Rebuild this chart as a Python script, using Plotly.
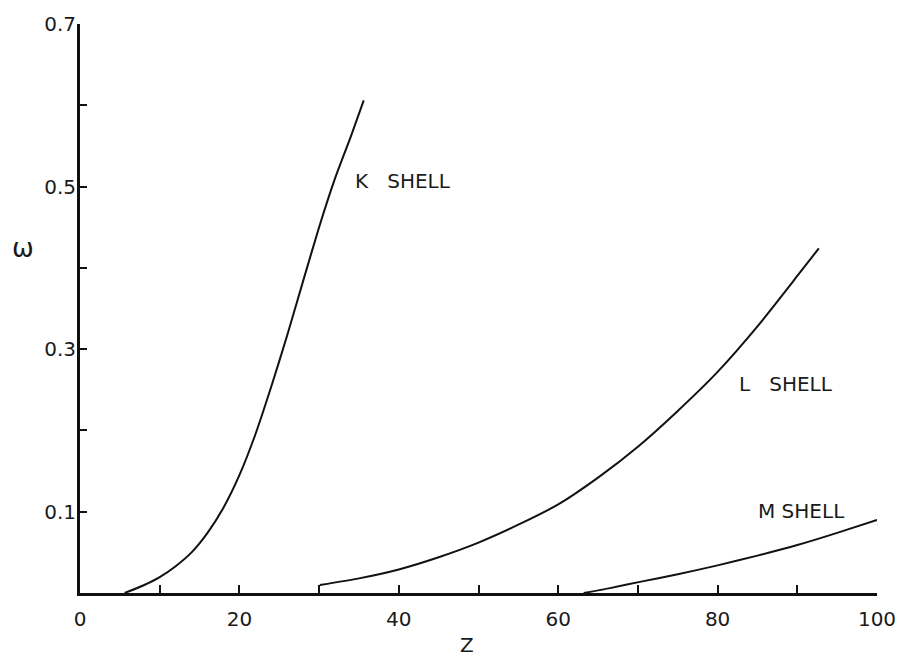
import plotly.graph_objects as go

# K shell fluorescence yield
k_z = [5.6, 8.0, 10.0, 12.0, 14.0, 16.0, 18.0, 20.0, 22.0, 24.0, 26.0, 28.0, 30.0, 32.0, 34.0, 35.6]
k_w = [0.0, 0.0095, 0.0195, 0.033, 0.050, 0.074, 0.105, 0.145, 0.195, 0.254, 0.317, 0.384, 0.45, 0.51, 0.562, 0.606]

# L shell
l_z = [30.1, 35.0, 40.0, 45.0, 50.0, 55.0, 60.0, 65.0, 70.0, 75.0, 80.0, 85.0, 90.0, 92.7]
l_w = [0.0098, 0.018, 0.029, 0.044, 0.062, 0.084, 0.109, 0.142, 0.18, 0.224, 0.272, 0.328, 0.39, 0.424]

# M shell
m_z = [63.2, 66.5, 70.4, 75.0, 80.0, 85.0, 90.0, 95.0, 100.0]
m_w = [0.0, 0.006, 0.014, 0.023, 0.034, 0.046, 0.059, 0.074, 0.09]

x_ticks = [0, 10, 20, 30, 40, 50, 60, 70, 80, 90, 100]
x_labels = ["0", "", "20", "", "40", "", "60", "", "80", "", "100"]
y_ticks = [0.1, 0.2, 0.3, 0.4, 0.5, 0.6, 0.7]
y_labels = ["0.1", "", "0.3", "", "0.5", "", "0.7"]

shell_labels = ["K\u00a0\u00a0\u00a0SHELL", "L\u00a0\u00a0\u00a0SHELL", "M\u00a0SHELL"]
label_x = [40.5, 88.6, 90.5]
label_y = [0.507, 0.257, 0.101]

font = dict(family="DejaVu Sans", size=20, color="#1a1a1a")

fig = go.Figure()
for zs, ws in [(k_z, k_w), (l_z, l_w), (m_z, m_w)]:
    fig.add_trace(go.Scatter(x=zs, y=ws, mode="lines",
                             line=dict(color="#111111", width=2, shape="spline", smoothing=0.6),
                             showlegend=False, hoverinfo="skip"))

for t, xx, yy in zip(shell_labels, label_x, label_y):
    fig.add_annotation(x=xx, y=yy, text=t, showarrow=False, font=font,
                       xanchor="center", yanchor="middle")

fig.add_annotation(xref="paper", yref="paper", x=-0.072, y=0.607, text="ω",
                   showarrow=False, font=dict(family="DejaVu Sans", size=26, color="#1a1a1a"),
                   xanchor="center", yanchor="middle")
fig.add_annotation(xref="paper", yref="paper", x=0.485, y=-0.092, text="Z",
                   showarrow=False, font=dict(family="DejaVu Sans", size=20, color="#1a1a1a"),
                   xanchor="center", yanchor="middle")

fig.update_layout(
    width=908, height=659,
    margin=dict(l=80, r=21, t=20, b=66),
    paper_bgcolor="white", plot_bgcolor="white",
    font=font,
)
fig.update_xaxes(range=[0, 100], tickvals=x_ticks, ticktext=x_labels,
                 ticks="inside", ticklen=8, tickwidth=1.5, tickcolor="#111111",
                 showline=True, linewidth=3, linecolor="#111111",
                 showgrid=False, zeroline=False, ticklabelstandoff=6,
                 tickfont=font)
fig.update_yaxes(range=[0, 0.7], tickvals=y_ticks, ticktext=y_labels,
                 ticks="inside", ticklen=7, tickwidth=1.5, tickcolor="#111111",
                 showline=True, linewidth=3, linecolor="#111111",
                 showgrid=False, zeroline=False, ticklabelstandoff=-3,
                 tickfont=font)

fig.write_html("out.html")
